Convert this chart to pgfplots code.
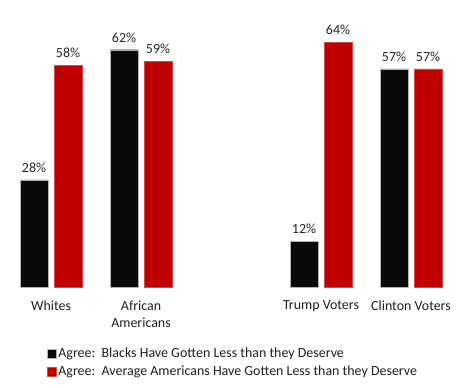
\documentclass[border=0pt]{standalone}
\usepackage{pgfplots}
\pgfplotsset{compat=1.18}
\usepackage{fontspec}
\setmainfont{Carlito}
\definecolor{barred}{HTML}{C00000}
\definecolor{barblack}{HTML}{0A0A0A}
\begin{document}
\begin{tikzpicture}
\begin{axis}[
  name=ax,
  scale only axis,
  width=468bp, height=287bp,
  xmin=-0.567, xmax=4.633,
  ymin=0, ymax=75,
  axis line style={draw=none},
  tick style={draw=none},
  ytick=\empty,
  xtick={0,1,3,4},
  xticklabels={Whites,{African\\Americans},Trump Voters,Clinton Voters},
  xticklabel style={align=center, font=\fontsize{14}{17}\selectfont, yshift=-6bp, text=black!88},
  ybar=6bp, bar width=28bp,
  clip=false,
  /pgf/number format/assume math mode=true,
  nodes near coords={\pgfmathprintnumber\pgfplotspointmeta\%},
  nodes near coords style={font=\fontsize{14}{16}\selectfont, text=black!85, inner sep=3bp, yshift=4bp},
  legend style={at={(axis description cs:0.1,-0.205)}, anchor=north west, draw=none,
     font=\fontsize{14}{16}\selectfont, row sep=3bp, inner sep=0pt, text=black!88,
     /tikz/every even column/.append style={column sep=1bp}},
  legend cell align=left,
  legend image code/.code={\fill[#1] (0bp,-4.5bp) rectangle (9bp,4.5bp);},
]
\addplot[fill=barblack, draw=gray!60, line width=0.4bp] coordinates {(0,28) (1,62) (3,12) (4,57)};
\addplot[fill=barred, draw=barred!70!white, line width=0.4bp] coordinates {(0,58) (1,59) (3,64) (4,57)};
\legend{Agree:\ \ Blacks Have Gotten Less than they Deserve, Agree:\ \ Average Americans Have Gotten Less than they Deserve}
\end{axis}
\pgfresetboundingbox
\path[use as bounding box] ([yshift=-101bp]ax.south west) rectangle (ax.north east);
\end{tikzpicture}
\end{document}
